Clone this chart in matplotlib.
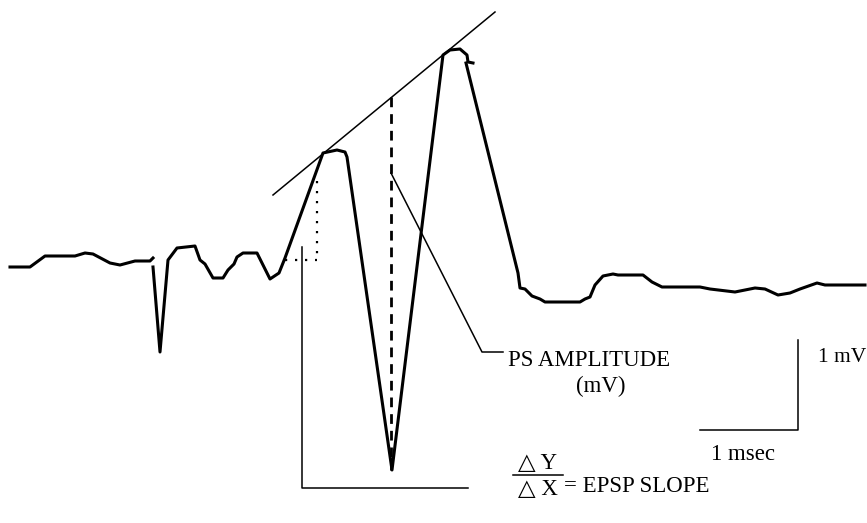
import numpy as np
import matplotlib.pyplot as plt

# Field potential trace (image units: x to the right, y downward)
trace_x = [10, 30, 45, 75, 85, 93, 110, 120, 135, 150, 153]
trace_y = [267, 267, 256, 256, 253, 254, 263, 265, 261, 261, 258]
spike_x = [153, 160, 168, 177, 195, 200, 205, 213, 223, 228, 234, 237, 243, 257,
           270, 279, 285, 323, 337, 345, 347, 392, 443, 450, 460, 467, 468, 473]
spike_y = [267, 352, 260, 248, 246, 260, 264, 278, 278, 270, 264, 257, 253, 253,
           279, 273, 258, 153, 150, 152, 157, 470, 55, 50, 49, 55, 62, 63]
tail_x = [466, 518, 520, 525, 532, 540, 545, 580, 585, 590, 595, 603, 613, 618, 643,
          652, 662, 700, 710, 735, 745, 755, 765, 778, 790, 800, 817, 825, 865]
tail_y = [63, 273, 288, 289, 296, 299, 302, 302, 299, 297, 285, 276, 274, 275, 275,
          282, 287, 287, 289, 292, 290, 288, 289, 295, 293, 289, 283, 285, 285]

# construction lines
tangent_x = [273, 495]
tangent_y = [195, 12]
ps_dash_x = [391, 391]
ps_dash_y = [97, 470]

fig = plt.figure(figsize=(8.67, 5.23), dpi=100)
ax = fig.add_axes([0, 0, 1, 1])
ax.set_xlim(0, 867)
ax.set_ylim(523, 0)
ax.axis('off')

ax.plot(trace_x, trace_y, color='black', lw=2.2, solid_joinstyle='round')
ax.plot(spike_x, spike_y, color='black', lw=2.2, solid_joinstyle='round')
ax.plot(tail_x, tail_y, color='black', lw=2.2, solid_joinstyle='round')

ax.plot(tangent_x, tangent_y, color='black', lw=1.1)
ax.plot(ps_dash_x, ps_dash_y, color='black', lw=2, linestyle=(0, (3.5, 2.5)))
# EPSP dotted construction
ax.plot([317, 317], [181, 260], color='black', lw=1.6, linestyle=(0, (1, 3.5)))
ax.plot([285, 317], [260, 260], color='black', lw=1.6, linestyle=(0, (1, 3.5)))

# leaders
ax.plot([302, 302, 468], [247, 488, 488], color='black', lw=1.1)
ax.plot([391, 482, 503], [173, 352, 352], color='black', lw=1.1)

# scale bar
ax.plot([700, 798, 798], [430, 430, 340], color='black', lw=1.1)

serif = ['Liberation Serif', 'DejaVu Sans']
fs = 16.5
ax.text(508, 360, 'PS AMPLITUDE', fontsize=fs, family=serif, va='center', ha='left')
ax.text(601, 386, '(mV)', fontsize=fs, family=serif, va='center', ha='center')
ax.text(866, 357, '1 mV', fontsize=15.5, family=serif, va='center', ha='right')
ax.text(743, 455, '1 msec', fontsize=fs, family=serif, va='center', ha='center')
ax.text(538, 463, '\u25b3 Y', fontsize=fs, family=serif, va='center', ha='center')
ax.plot([513, 563], [475, 475], color='black', lw=1.1)
ax.text(538, 490, '\u25b3 X', fontsize=fs, family=serif, va='center', ha='center')
ax.text(564, 486, '= EPSP SLOPE', fontsize=fs, family=serif, va='center', ha='left')

fig.savefig('out.png', dpi=100)
